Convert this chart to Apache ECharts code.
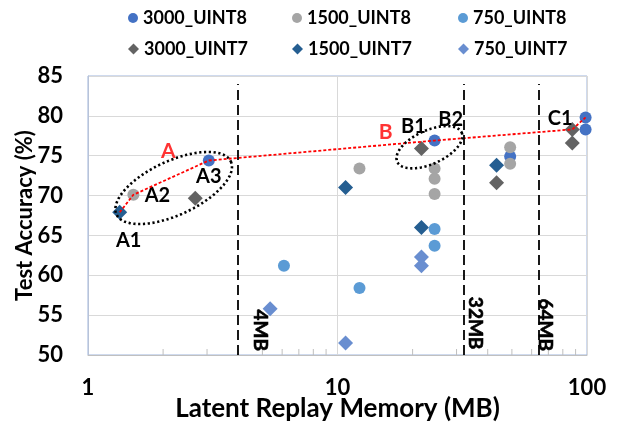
<!DOCTYPE html>
<html>
<head>
<meta charset="utf-8">
<script src="https://cdn.jsdelivr.net/npm/echarts@6/dist/echarts.min.js"></script>
<style>html,body{margin:0;padding:0;background:#fff}#c{width:628px;height:425px}</style>
</head>
<body>
<div id="c"></div>
<script>
// ---- data ----
const seriesNames = ['3000_UINT8','1500_UINT8','750_UINT8','3000_UINT7','1500_UINT7','750_UINT7'];
const s3000_UINT8 = [[3.05,74.4],[24.5,76.9],[49.2,74.9],[98.7,79.8],[98.7,78.3]];
const s1500_UINT8 = [[1.52,70.1],[12.25,73.4],[24.5,73.4],[24.5,72.1],[24.5,70.2],[49.2,76.05],[49.2,74.0]];
const s750_UINT8  = [[6.1,61.2],[12.25,58.4],[24.5,65.8],[24.5,63.7]];
const s3000_UINT7 = [[2.69,69.65],[21.7,75.9],[43.4,71.6],[87.3,78.3],[87.3,76.6]];
const s1500_UINT7 = [[1.34,67.9],[10.77,71.0],[21.7,66.0],[43.4,73.8]];
const s750_UINT7  = [[5.37,55.8],[10.77,51.5],[21.7,62.3],[21.7,61.2]];
const redPath = [[1.34,67.9],[1.52,70.1],[3.05,74.4],[24.5,76.9],[87.3,78.3],[98.7,79.8]];
const memLines = [4, 32, 64];
const memLabels = ['4MB','32MB','64MB'];
const memLabelPos = [[4.91,53.1],[35.7,54.0],[67.8,53.8]];
const groupLabels = ['A','B'];
const groupLabelPos = [[2.1,75.6],[15.6,78.0]];
const ellipseCenters = [[2.205,70.95],[23.36,76.07]];
const minorTickValues = [2,3,4,5,6,7,8,9,20,30,40,50,60,70,80,90];
const yTicks = {min:50, max:85, interval:5};

// ---- styles ----
const FONT = 'Lato';
const colors = {'3000_UINT8':'#4472C4','1500_UINT8':'#A5A5A5','750_UINT8':'#5B9BD5',
                '3000_UINT7':'#636363','1500_UINT7':'#255E91','750_UINT7':'#698ED0'};
const symbols = {'3000_UINT8':'circle','1500_UINT8':'circle','750_UINT8':'circle',
                 '3000_UINT7':'diamond','1500_UINT7':'diamond','750_UINT7':'diamond'};
const seriesData = {'3000_UINT8':s3000_UINT8,'1500_UINT8':s1500_UINT8,'750_UINT8':s750_UINT8,
                    '3000_UINT7':s3000_UINT7,'1500_UINT7':s1500_UINT7,'750_UINT7':s750_UINT7};
// point labels (series, index, text, pixel offset)
const pointLabels = [
  ['1500_UINT7',0,'A1',[9,28]],
  ['1500_UINT8',0,'A2',[24,1]],
  ['3000_UINT8',0,'A3',[0,16]],
  ['3000_UINT7',1,'B1',[-8,-22]],
  ['3000_UINT8',1,'B2',[16,-21]],
  ['3000_UINT7',3,'C1',[-12,-11]]
];
const ellipseShapes = [{a:63,b:27,rot:24.8},{a:35.4,b:16.8,rot:24.4}];
const legendPos = {'3000_UINT8':[128,9],'1500_UINT8':[292,9],'750_UINT8':[458,9],
                   '3000_UINT7':[128,40],'1500_UINT7':[292,40],'750_UINT7':[458,40]};

const chart = echarts.init(document.getElementById('c'), null, {renderer:'canvas'});

const scatterSeries = seriesNames.map(name => {
  const data = seriesData[name].map((p, i) => {
    const lab = pointLabels.find(l => l[0] === name && l[1] === i);
    const item = {value: p};
    if (lab) {
      item.label = {show:true, formatter: lab[2], position:'inside', offset: lab[3],
        color:'#000', fontFamily: FONT, fontWeight:'bold', fontSize:20};
    }
    return item;
  });
  return {
    name, type:'scatter', data,
    symbol: symbols[name],
    symbolSize: symbols[name] === 'circle' ? 12 : 15,
    itemStyle: {color: colors[name], opacity:1},
    z: 3
  };
});

const legends = seriesNames.map(name => ({
  data: [{name, icon: symbols[name]}],
  left: legendPos[name][0], top: legendPos[name][1],
  padding: 0, itemWidth: symbols[name]==='circle'?10:11, itemHeight: symbols[name]==='circle'?10:11, itemGap: 0,
  textStyle: {fontFamily: FONT, fontWeight:'bold', fontSize:18, color:'#000'},
  selectedMode: false
}));

const option = {
  animation: false,
  backgroundColor: '#fff',
  legend: legends,
  grid: {left:88, right:41, top:76, bottom:70, containLabel:false, outerBoundsMode:'none',
         show:true, borderColor:'#9fb4dc', borderWidth:1},
  xAxis: {
    type:'log', logBase:10, min:1, max:100,
    name:'Latent Replay Memory (MB)', nameLocation:'middle', nameGap:41, nameMoveOverlap:false,
    nameTextStyle:{fontFamily:FONT, fontWeight:'bold', fontSize:26, color:'#000'},
    axisLine:{show:true, lineStyle:{color:'#c0c0c0'}},
    axisTick:{show:false},
    axisLabel:{fontFamily:FONT, fontWeight:'bold', fontSize:22, color:'#000', margin:22},
    splitLine:{show:true, lineStyle:{color:'#d9d9d9'}}
  },
  yAxis: {
    type:'value', min:yTicks.min, max:yTicks.max, interval:yTicks.interval,
    name:'Test Accuracy (%)', nameLocation:'middle', nameGap:52, nameMoveOverlap:false,
    nameTextStyle:{fontFamily:FONT, fontWeight:'bold', fontSize:22, color:'#000'},
    axisLine:{show:true, lineStyle:{color:'#b8c3d8'}},
    axisTick:{show:false},
    axisLabel:{fontFamily:FONT, fontWeight:'bold', fontSize:22, color:'#000', margin:25},
    splitLine:{show:true, lineStyle:{color:'#d9d9d9'}}
  },
  series: [
    // minor ticks on log axis
    {
      type:'custom', name:'minorTicks', silent:true, z:1,
      data: minorTickValues.map(v => [v]),
      encode:{x:0},
      renderItem: (params, api) => {
        const p = api.coord([api.value(0), yTicks.min]);
        return {type:'line', shape:{x1:p[0], y1:p[1], x2:p[0], y2:p[1]-6},
                style:{stroke:'#bfbfbf', lineWidth:1}};
      }
    },
    // memory limit dashed lines
    {
      type:'line', name:'memLines', data:[], silent:true, z:2,
      markLine: {
        silent:true, symbol:['none','none'], label:{show:false},
        lineStyle:{color:'#000', type:[10,5], width:1.8},
        data: memLines.map(v => [{coord:[v, yTicks.min]}, {coord:[v, 84]}])
      }
    },
    ...scatterSeries,
    // red trend path
    {
      type:'line', name:'path', data: redPath, symbol:'none', silent:true, z:4,
      lineStyle:{color:'#FF0000', width:1.8, type:[3,2]}
    },
    // dotted ellipses
    {
      type:'custom', name:'ellipses', silent:true, z:5,
      data: ellipseCenters,
      renderItem: (params, api) => {
        const c = api.coord([api.value(0), api.value(1)]);
        const sh = ellipseShapes[params.dataIndex];
        const th = sh.rot * Math.PI / 180, cs = Math.cos(th), sn = Math.sin(th);
        const pts = [];
        for (let k = 0; k <= 120; k++) {
          const t = k / 120 * Math.PI * 2;
          const u = sh.a * Math.cos(t), w = sh.b * Math.sin(t);
          pts.push([c[0] + u*cs + w*sn, c[1] - u*sn + w*cs]);
        }
        return {type:'polyline', shape:{points:pts},
                style:{fill:null, stroke:'#000', lineWidth:2.6, lineDash:[2.2,2.6]}};
      }
    },
    // group labels A, B
    {
      type:'scatter', name:'groupLabels', silent:true, z:6, symbolSize:0,
      data: groupLabelPos.map((p,i) => ({value:p, label:{formatter: groupLabels[i]}})),
      label:{show:true, position:'inside', color:'#FF0000', fontFamily:FONT, fontWeight:'bold', fontSize:21}
    },
    // memory labels (rotated, reading top to bottom)
    {
      type:'custom', name:'memLabels', silent:true, z:6,
      data: memLabelPos,
      renderItem: (params, api) => {
        const c = api.coord([api.value(0), api.value(1)]);
        return {type:'text', x:c[0], y:c[1], rotation:-Math.PI/2,
                style:{text: memLabels[params.dataIndex], fill:'#000', stroke:'#000', lineWidth:0.6,
                       font:'bold 19px ' + FONT, align:'center', verticalAlign:'middle'}};
      }
    }
  ]
};
chart.setOption(option);
</script>
</body>
</html>
